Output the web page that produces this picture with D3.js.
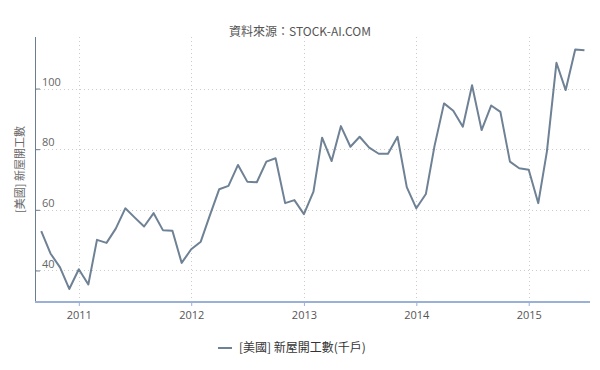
<!DOCTYPE html>
<html>
<head>
<meta charset="utf-8">
<script src="https://cdn.jsdelivr.net/npm/d3@7/dist/d3.min.js"></script>
<style>
  body { margin: 0; background: #fff; }
  svg { font-family: "Noto Sans CJK TC", "Noto Sans", sans-serif; }
</style>
</head>
<body>
<div id="chart"></div>
<script>
// monthly starts, Sep 2010 .. Jul 2015
const startMonth = [2010, 8]; // year, month index (0-based)
const housingStarts = [
  53.0, 45.6, 41.0, 33.9,
  40.4, 35.4, 50.1, 49.1, 53.8, 60.5, 57.5, 54.5, 58.9, 53.3, 53.1, 42.5,
  47.0, 49.5, 58.0, 66.8, 67.9, 74.8, 69.3, 69.1, 75.9, 77.0, 62.2, 63.2,
  58.6, 66.0, 83.8, 76.1, 87.6, 80.8, 84.1, 80.5, 78.5, 78.5, 84.1, 67.5,
  60.5, 65.2, 81.0, 95.1, 92.7, 87.4, 101.1, 86.3, 94.4, 92.3, 75.9, 73.7,
  73.2, 62.2, 79.2, 108.5, 99.5, 112.9, 112.6
];
const yTicks = [40, 60, 80, 100];
const xTicks = [2011, 2012, 2013, 2014, 2015];
const seriesName = '[美國] 新屋開工數(千戶)';
const yTitle = '[美國] 新屋開工數';
const source = '資料來源：STOCK-AI.COM';

const data = housingStarts.map((v, i) => ({
  date: new Date(startMonth[0], startMonth[1] + i, 1),
  value: v
}));

const width = 600;
const height = 370;
const margin = { top: 37, right: 10, bottom: 68, left: 36 };

const svg = d3.select('#chart').append('svg')
  .attr('width', width)
  .attr('height', height);

const x = d3.scaleTime()
  .domain([new Date(2010, 7, 15), new Date(2015, 6, 19)])
  .range([margin.left, width - margin.right]);

const y = d3.scaleLinear()
  .domain([29.6, 117])
  .range([height - margin.bottom, margin.top]);

// source line
svg.append('text')
  .attr('x', 300)
  .attr('y', 36)
  .attr('text-anchor', 'middle')
  .attr('font-size', 12)
  .attr('fill', '#555')
  .text(source);

// grid
svg.append('g')
  .selectAll('line')
  .data(yTicks)
  .join('line')
  .attr('x1', margin.left)
  .attr('x2', width - margin.right)
  .attr('y1', d => Math.round(y(d)) + 0.5)
  .attr('y2', d => Math.round(y(d)) + 0.5)
  .attr('stroke', '#ccc')
  .attr('stroke-dasharray', '1,3');

svg.append('g')
  .selectAll('line')
  .data(xTicks)
  .join('line')
  .attr('x1', d => Math.round(x(new Date(d, 0, 1))) + 0.5)
  .attr('x2', d => Math.round(x(new Date(d, 0, 1))) + 0.5)
  .attr('y1', margin.top)
  .attr('y2', height - margin.bottom)
  .attr('stroke', '#ccc')
  .attr('stroke-dasharray', '1,3');

// y axis
const yAxis = svg.append('g')
  .attr('transform', `translate(${margin.left},0)`)
  .call(d3.axisRight(y).tickValues(yTicks).tickSize(4).tickPadding(2));
yAxis.select('.domain').remove();
yAxis.selectAll('.tick line').attr('stroke', '#6b7d8f');
yAxis.selectAll('.tick text')
  .attr('font-size', 11)
  .attr('fill', '#666')
  .attr('dy', '-0.3em')
  .attr('font-family', '"Open Sans", sans-serif');
svg.append('line')
  .attr('x1', margin.left - 0.5).attr('x2', margin.left - 0.5)
  .attr('y1', margin.top).attr('y2', height - margin.bottom)
  .attr('stroke', '#6b7d8f');

svg.append('text')
  .attr('transform', `translate(24,${(margin.top + height - margin.bottom) / 2}) rotate(-90)`)
  .attr('text-anchor', 'middle')
  .attr('font-size', 11)
  .attr('fill', '#666')
  .text(yTitle);

// x axis
const xAxis = svg.append('g')
  .attr('transform', `translate(0,${height - margin.bottom})`)
  .call(d3.axisBottom(x)
    .tickValues(xTicks.map(d => new Date(d, 0, 1)))
    .tickFormat(d3.timeFormat('%Y'))
    .tickSize(4)
    .tickPadding(5));
xAxis.select('.domain').remove();
xAxis.selectAll('.tick line').attr('stroke', '#9ab0d6');
xAxis.selectAll('.tick text')
  .attr('font-size', 11)
  .attr('fill', '#555')
  .attr('font-family', '"Open Sans", sans-serif');
svg.append('line')
  .attr('x1', margin.left - 1).attr('x2', width - margin.right)
  .attr('y1', height - margin.bottom).attr('y2', height - margin.bottom)
  .attr('stroke', '#9ab0d6')
  .attr('stroke-width', 2);

// series
const line = d3.line()
  .x(d => x(d.date))
  .y(d => y(d.value));

svg.append('path')
  .datum(data)
  .attr('fill', 'none')
  .attr('stroke', '#6e8195')
  .attr('stroke-width', 2)
  .attr('stroke-linejoin', 'round')
  .attr('d', line);

// legend
const legend = svg.append('g').attr('transform', 'translate(218,348)');
legend.append('line')
  .attr('x1', 0).attr('x2', 14)
  .attr('stroke', '#6e8195')
  .attr('stroke-width', 2);
legend.append('text')
  .attr('x', 21)
  .attr('y', 4)
  .attr('font-size', 12)
  .attr('fill', '#333')
  .text(seriesName);
</script>
</body>
</html>
